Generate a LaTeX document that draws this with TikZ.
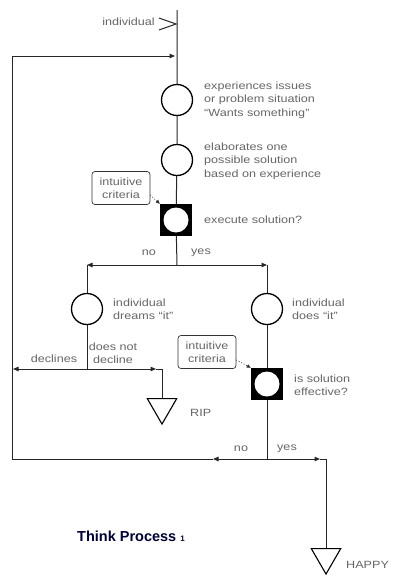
\documentclass[tikz,border=0pt]{standalone}
\usepackage{fontspec}
\setmainfont{Liberation Sans}
\newfontfamily\lblfont[FakeStretch=1.2]{Liberation Sans}
\usetikzlibrary{arrows.meta,shapes.geometric}
\begin{document}
\begin{tikzpicture}[x=1pt,y=-1pt,
  flow/.style={draw=black!85, line width=1pt},
  arr/.style={flow, -{Triangle[length=5.5pt,width=4.5pt]}},
  lbl/.style={font=\lblfont\fontsize{10.5}{13.5}\selectfont, text=black!60, align=left, anchor=west, inner sep=0pt},
  clbl/.style={lbl, anchor=center, align=center},
  state/.style={circle, draw=black, line width=1.3pt, minimum size=31pt, inner sep=0pt, fill=white},
  decision/.style={rectangle, fill=black, minimum size=32pt, inner sep=0pt,
    path picture={\fill[white] (path picture bounding box.center) circle (12.5pt);}},
  crit/.style={rounded corners=3pt, draw=black!80, line width=0.7pt, align=center,
    font=\lblfont\fontsize{10.5}{13.5}\selectfont, text=black!60, minimum width=58pt, minimum height=33pt, inner sep=1pt},
  hint/.style={draw=black!80, line width=0.8pt, dotted, -{Triangle[length=4pt,width=3.5pt]}},
  ground/.style={regular polygon, regular polygon sides=3, shape border rotate=180, draw=black, line width=1.1pt, minimum size=34pt, inner sep=0pt}]
\useasboundingbox (0,0) rectangle (394,581);

% entry
\coordinate (top) at (177,10);
\node[lbl, anchor=east] (ind) at (155,22) {individual};
\draw[flow] (159,18) -- (176,24) -- (159,30);

% main column
\node[state] (s1) at (177,100) {};
\node[state] (s2) at (177,160) {};
\node[decision] (d1) at (176,220) {};
\coordinate (split) at (177,265);
\draw[flow] (top) -- (s1) -- (s2) -- (d1) -- (split);

\node[lbl] (t1) at (204,100) {experiences issues\\or problem situation\\\textquotedblleft Wants something\textquotedblright};
\node[lbl] (t2) at (204,161) {elaborates one\\possible solution\\based on experience};
\node[lbl] (t3) at (204,220) {execute solution?};

\node[crit] (c1) at (121,188) {intuitive\\criteria};
\draw[hint] (c1.east |- 0,195) -- (d1.north west);

% loop back
\coordinate (L0) at (12,56);
\coordinate (L1) at (12,459);
\coordinate (Lm) at (175,56);
\draw[arr] (L0) -- (Lm);
\draw[flow] (L0) -- (L1);

% split
\coordinate (bl) at (87,265);
\coordinate (br) at (267,265);
\draw[arr] (split) -- (bl);
\draw[arr] (split) -- (br);
\node[clbl] (no1) at (149,253) {no};
\node[clbl] (yes1) at (201,253) {yes};

% left branch
\node[state] (s3) at (87,309) {};
\node[lbl] (t4) at (113,309) {individual\\dreams \textquotedblleft it\textquotedblright};
\coordinate (j1) at (87,369);
\draw[flow] (bl) -- (s3) -- (j1);
\coordinate (j1l) at (13,369);
\coordinate (j1r) at (156,369);
\coordinate (j1c) at (162,369);
\draw[arr] (j1) -- (j1l);
\draw[arr] (j1) -- (j1r);
\node[ground, anchor=north] (rip) at (162,398) {};
\draw[flow] (j1r) -- (j1c) -- (rip.north);
\node[clbl] (dec) at (54,359) {declines};
\node[clbl] (ndec) at (113,353) {does not\\decline};
\node[lbl] (riplbl) at (190,413) {RIP};

% right branch
\node[state] (s4) at (267,309) {};
\node[lbl] (t5) at (292,309) {individual\\does \textquotedblleft it\textquotedblright};
\node[decision] (d2) at (267,384) {};
\node[lbl] (t6) at (294,385) {is solution\\effective?};
\node[crit] (c2) at (207,352) {intuitive\\criteria};
\draw[hint] (c2.east |- 0,360) -- (d2.north west);
\coordinate (j2) at (267,459);
\draw[flow] (br) -- (s4) -- (d2) -- (j2);
\coordinate (j2l) at (213,459);
\coordinate (j2r) at (320,459);
\coordinate (j2c) at (326,459);
\draw[arr] (j2) -- (j2l);
\draw[flow] (j2l) -- (L1);
\draw[arr] (j2) -- (j2r);
\node[ground, anchor=north] (happy) at (326,548) {};
\draw[flow] (j2r) -- (j2c) -- (happy.north);
\node[clbl] (no2) at (241,449) {no};
\node[clbl] (yes2) at (287,449) {yes};
\node[lbl] (happylbl) at (346,565) {HAPPY};

% title
\node[font=\bfseries\fontsize{14.5}{16}\selectfont, text=black!80!blue, inner sep=0pt] (title) at (131,536) {Think Process {\fontsize{8}{9}\selectfont 1}};
\end{tikzpicture}
\end{document}
